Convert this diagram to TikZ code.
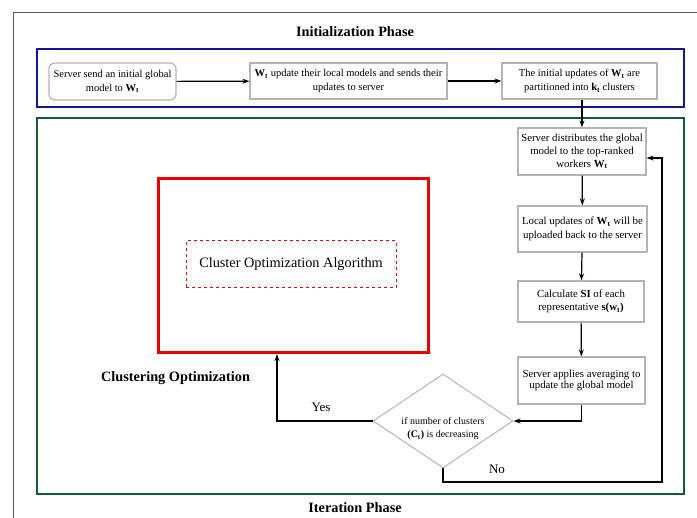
\documentclass[tikz,border=0pt]{standalone}
\usepackage{fontspec}
\setmainfont{Liberation Serif}
\usetikzlibrary{arrows.meta,shapes.geometric}

\definecolor{phaseblue}{RGB}{20,20,150}
\definecolor{phasegreen}{RGB}{20,90,50}
\definecolor{optred}{RGB}{230,0,0}
\definecolor{boxgray}{RGB}{180,180,180}

\newcommand{\Wt}{\textbf{W\textsubscript{t}}}

\tikzset{
    stepbox/.style={draw=boxgray, line width=1.2pt, align=center,
        inner sep=2pt, font=\fontsize{10.8}{13.5}\selectfont},
    flow/.style={-{Stealth[length=7pt,width=5pt]}, line width=1.2pt},
    phasetitle/.style={font=\fontsize{14.3}{16}\selectfont\bfseries}
}

\begin{document}
\begin{tikzpicture}[x=1pt, y=-1pt]
    \useasboundingbox (0,0) rectangle (697,518);

    % outer frame
    \draw[gray!70!black, line width=1pt] (13,518) -- (13,13) -- (697,13);

    % phase frames
    \draw[phaseblue, line width=2pt] (37,49) rectangle (684,107);
    \draw[phasegreen, line width=2.5pt] (37,118) rectangle (684,494);

    \node[phasetitle] (inittitle) at (355,32) {Initialization Phase};
    \node[phasetitle] (itertitle) at (355,508) {Iteration Phase};
    \node[phasetitle] (clusterlbl) at (175.5,378) {Clustering Optimization};

    % initialization steps
    \node[stepbox, rounded corners=6pt, minimum width=127, minimum height=37,
        font=\fontsize{10.5}{14}\selectfont] (send) at (112.5,81.5)
        {Server send an initial global\\ model to \Wt};
    \node[stepbox, minimum width=197, minimum height=36,
        font=\fontsize{10.5}{14}\selectfont] (local) at (348.5,81)
        {\Wt{} update their local models and sends their\\ updates to server};
    \node[stepbox, minimum width=155, minimum height=36,
        font=\fontsize{10.5}{14}\selectfont] (part) at (579.5,81)
        {The initial updates of \Wt{} are\\ partitioned into \textbf{k\textsubscript{t}} clusters};

    % iteration steps
    \node[stepbox, minimum width=128, minimum height=47,
        font=\fontsize{10.8}{12.8}\selectfont] (distr) at (582,151.5)
        {Server distributes the global\\ model to the top-ranked\\ workers \Wt};
    \node[stepbox, minimum width=129, minimum height=46] (upload) at (582.5,229)
        {Local updates of \Wt{} will be\\ uploaded back to the server};
    \node[stepbox, minimum width=126, minimum height=41,
        font=\fontsize{10.8}{12.5}\selectfont] (calc) at (581,301.5)
        {Calculate \textbf{SI} of each\\ representative \textbf{s(w\textsubscript{t})}};
    \node[stepbox, minimum width=127, minimum height=47,
        font=\fontsize{10.8}{10.5}\selectfont] (avg) at (581.5,380.5)
        {Server applies averaging to\\ update the global model};
    \node[draw=boxgray, line width=1pt, diamond, aspect=1.49, inner sep=0pt,
        minimum width=140, minimum height=94] (decide) at (443,421) {};
    \node[align=center, font=\fontsize{10}{13}\selectfont] (decidetxt) at (443,429)
        {if number of clusters\\ \textbf{(C\textsubscript{t})} is decreasing};

    % cluster optimization
    \node[draw=optred, line width=3pt, minimum width=270, minimum height=174]
        (opt) at (293,266) {};
    \node[draw=optred, dashed, line width=1pt, minimum width=210, minimum height=47,
        font=\fontsize{14.3}{16}\selectfont] (algo) at (291,264.5)
        {Cluster Optimization Algorithm};

    \coordinate (yesend) at (277,354);
    \coordinate (noloop) at (662,482);

    % connectors
    \draw[flow] (send) -- (local);
    \draw[flow] (local) -- (part);
    \draw[flow] (distr.north |- part.south) -- (distr.north);
    \draw[flow] (distr) -- (upload);
    \draw[flow] (upload) -- (calc);
    \draw[flow] (calc) -- (avg);
    \draw[flow] (avg.south) |- (decide.east);
    \draw[flow] (decide.west) -| (yesend);
    \draw[flow] (decide.south) |- (noloop) |- ([yshift=-6.5pt]distr.east);

    \node[font=\fontsize{13}{15}\selectfont] (yeslbl) at (321,407) {Yes};
    \node[font=\fontsize{13}{15}\selectfont] (nolbl) at (497,469) {No};
\end{tikzpicture}
\end{document}
